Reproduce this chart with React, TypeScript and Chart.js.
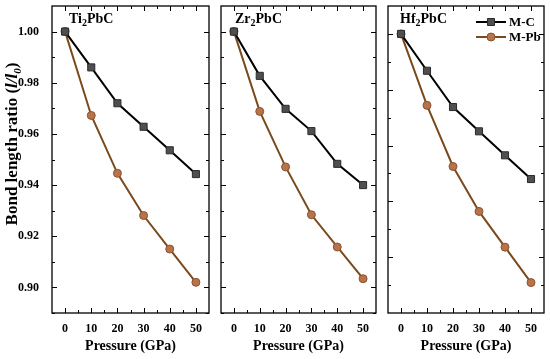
import React, { useEffect, useRef } from 'react';
import { Chart, registerables } from 'chart.js';
Chart.register(...registerables);

// ---------- data ----------
const pressure = [0, 10, 20, 30, 40, 50];
const tiMC = [1.0, 0.986, 0.972, 0.9628, 0.9536, 0.9443];
const tiMPb = [1.0, 0.9672, 0.9446, 0.9281, 0.915, 0.902];
const zrMC = [1.0, 0.9827, 0.9698, 0.9611, 0.9483, 0.94];
const zrMPb = [1.0, 0.9688, 0.9471, 0.9284, 0.9158, 0.9034];
const hfMC = [1.0, 0.9868, 0.9738, 0.9651, 0.9565, 0.948];
const hfMPb = [1.0, 0.9744, 0.9525, 0.9364, 0.9236, 0.9109];
const xMajorTicks = [0, 10, 20, 30, 40, 50];
const xMinorTicks = [5, 15, 25, 35, 45];
const yMajorTiZr = [0.9, 0.92, 0.94, 0.96, 0.98, 1.0];
const yMinorTiZr = [0.89, 0.91, 0.93, 0.95, 0.97, 0.99];
const yMajorHf = [0.92, 0.94, 0.96, 0.98, 1.0];
const yMinorHf = [0.91, 0.93, 0.95, 0.97, 0.99];
const seriesNames = ['M-C', 'M-Pb'];

const FONT = "'Liberation Serif', 'Times New Roman', serif";

type Panel = {
  metal: string;
  mc: number[];
  mpb: number[];
  yMin: number;
  yMax: number;
  yMajor: number[];
  yMinor: number[];
  left: number;
  width: number;
  padLeft: number;
  padRight: number;
  showY: boolean;
  titleOffset: number;
  legend: boolean;
};

const panels: Panel[] = [
  { metal: 'Ti', mc: tiMC, mpb: tiMPb, yMin: 0.89, yMax: 1.01, yMajor: yMajorTiZr, yMinor: yMinorTiZr, left: 0, width: 215, padLeft: 0, padRight: 6, showY: true, titleOffset: 17, legend: false },
  { metal: 'Zr', mc: zrMC, mpb: zrMPb, yMin: 0.89, yMax: 1.01, yMajor: yMajorTiZr, yMinor: yMinorTiZr, left: 215, width: 167, padLeft: 6, padRight: 5, showY: false, titleOffset: 14, legend: false },
  { metal: 'Hf', mc: hfMC, mpb: hfMPb, yMin: 0.9, yMax: 1.01, yMajor: yMajorHf, yMinor: yMinorHf, left: 382, width: 168, padLeft: 6, padRight: 5, showY: false, titleOffset: 12, legend: true },
];

const MC_LINE = '#000000';
const MC_FILL = '#4f4f4f';
const MC_EDGE = '#2b2b2b';
const PB_LINE = '#7a4a1c';
const PB_FILL = '#b8734a';
const PB_EDGE = '#8a5230';

function drawRich(ctx: CanvasRenderingContext2D, parts: { t: string; font: string; dy: number }[], x: number, y: number, align: 'left' | 'center') {
  let total = 0;
  for (const p of parts) { ctx.font = p.font; total += ctx.measureText(p.t).width; }
  let cx = align === 'center' ? x - total / 2 : x;
  for (const p of parts) {
    ctx.font = p.font;
    ctx.fillText(p.t, cx, y + p.dy);
    cx += ctx.measureText(p.t).width;
  }
}

function makePlugin(panel: Panel) {
  return {
    id: 'frame' + panel.metal,
    afterDraw(chart: any) {
      const ctx: CanvasRenderingContext2D = chart.ctx;
      const { left, right, top, bottom } = chart.chartArea;
      const xs = chart.scales.x;
      const ys = chart.scales.y;
      ctx.save();
      ctx.strokeStyle = '#000';
      ctx.lineWidth = 1;
      const major = 5, minor = 3;
      const tickX = (v: number, len: number) => {
        const px = Math.round(xs.getPixelForValue(v)) + 0.5;
        ctx.beginPath();
        ctx.moveTo(px, bottom); ctx.lineTo(px, bottom - len);
        ctx.moveTo(px, top); ctx.lineTo(px, top + len);
        ctx.stroke();
      };
      const tickY = (v: number, len: number) => {
        const py = Math.round(ys.getPixelForValue(v)) + 0.5;
        ctx.beginPath();
        ctx.moveTo(left, py); ctx.lineTo(left + len, py);
        ctx.moveTo(right, py); ctx.lineTo(right - len, py);
        ctx.stroke();
      };
      xMajorTicks.forEach(v => tickX(v, major));
      xMinorTicks.forEach(v => tickX(v, minor));
      panel.yMajor.forEach(v => tickY(v, major));
      panel.yMinor.forEach(v => tickY(v, minor));
      ctx.lineWidth = 1.3;
      ctx.strokeRect(left, top, right - left, bottom - top);

      ctx.fillStyle = '#000';
      ctx.textBaseline = 'alphabetic';
      drawRich(ctx, [
        { t: panel.metal, font: `bold 14px ${FONT}`, dy: 0 },
        { t: '2', font: `bold 10px ${FONT}`, dy: 3 },
        { t: 'PbC', font: `bold 14px ${FONT}`, dy: 0 },
      ], left + panel.titleOffset, top + 17, 'left');

      if (panel.showY) {
        ctx.save();
        ctx.translate(13, 144);
        ctx.rotate(-Math.PI / 2);
        ctx.textBaseline = 'middle';
        drawRich(ctx, [
          { t: 'Bond length ratio (', font: `bold 17px ${FONT}`, dy: 0 },
          { t: 'l/l', font: `italic bold 17px ${FONT}`, dy: 0 },
          { t: '0', font: `italic bold 11px ${FONT}`, dy: 5 },
          { t: ')', font: `bold 17px ${FONT}`, dy: 0 },
        ], 0, 0, 'center');
        ctx.restore();
      }

      if (panel.legend) {
        const lx0 = right - 68, lx1 = right - 38;
        const mx = (lx0 + lx1) / 2;
        const rows = [
          { y: top + 16, line: MC_LINE, fill: MC_FILL, edge: MC_EDGE, style: 'rect' },
          { y: top + 31, line: PB_LINE, fill: PB_FILL, edge: PB_EDGE, style: 'circle' },
        ];
        rows.forEach((r, i) => {
          ctx.strokeStyle = r.line;
          ctx.lineWidth = 2;
          ctx.beginPath(); ctx.moveTo(lx0, r.y); ctx.lineTo(lx1, r.y); ctx.stroke();
          ctx.fillStyle = r.fill;
          ctx.strokeStyle = r.edge;
          ctx.lineWidth = 1;
          ctx.beginPath();
          if (r.style === 'rect') ctx.rect(mx - 3.5, r.y - 3.5, 7, 7);
          else ctx.arc(mx, r.y, 4, 0, Math.PI * 2);
          ctx.fill(); ctx.stroke();
          ctx.fillStyle = '#000';
          ctx.font = `bold 13px ${FONT}`;
          ctx.textBaseline = 'middle';
          ctx.fillText(seriesNames[i], lx1 + 3, r.y + 1);
        });
      }
      ctx.restore();
    },
  };
}

function PanelChart({ panel }: { panel: Panel }) {
  const ref = useRef<HTMLCanvasElement | null>(null);
  useEffect(() => {
    if (!ref.current) return;
    const tickFont = { family: FONT, size: 12, weight: 'bold' as const };
    const chart = new Chart(ref.current, {
      type: 'line',
      data: {
        datasets: [
          {
            label: seriesNames[0],
            data: pressure.map((x, i) => ({ x, y: panel.mc[i] })),
            borderColor: MC_LINE,
            borderWidth: 2,
            pointStyle: 'rect',
            pointRadius: 5,
            pointBackgroundColor: MC_FILL,
            pointBorderColor: MC_EDGE,
            pointBorderWidth: 1,
            tension: 0,
          },
          {
            label: seriesNames[1],
            data: pressure.map((x, i) => ({ x, y: panel.mpb[i] })),
            borderColor: PB_LINE,
            borderWidth: 2,
            pointStyle: 'circle',
            pointRadius: 4,
            pointBackgroundColor: PB_FILL,
            pointBorderColor: PB_EDGE,
            pointBorderWidth: 1,
            tension: 0,
          },
        ],
      },
      options: {
        responsive: false,
        maintainAspectRatio: false,
        animation: false,
        layout: { padding: { top: 4, right: panel.padRight, left: panel.padLeft, bottom: 0 } },
        plugins: { legend: { display: false }, tooltip: { enabled: false } },
        scales: {
          x: {
            type: 'linear',
            min: -5,
            max: 55,
            afterBuildTicks: (s: any) => { s.ticks = xMajorTicks.map(v => ({ value: v })); },
            afterFit: (s: any) => { s.height = 46; s.paddingLeft = 0; s.paddingRight = 0; s.paddingTop = 0; s.paddingBottom = 0; },
            grid: { display: false },
            border: { display: false },
            ticks: { font: tickFont, color: '#000', padding: 1, maxRotation: 0, autoSkip: false, callback: (v: any) => String(v) },
            title: { display: true, text: 'Pressure (GPa)', color: '#000', font: { family: FONT, size: 14, weight: 'bold' }, padding: { top: 0, bottom: 4 } },
          },
          y: {
            type: 'linear',
            display: panel.showY,
            min: panel.yMin,
            max: panel.yMax,
            afterBuildTicks: (s: any) => { s.ticks = panel.yMajor.map(v => ({ value: v })); },
            afterFit: (s: any) => { s.width = panel.showY ? 52 : 0; s.paddingLeft = 0; s.paddingRight = 0; s.paddingTop = 0; s.paddingBottom = 0; },
            grid: { display: false },
            border: { display: false },
            ticks: { font: tickFont, color: '#000', padding: 5, autoSkip: false, callback: (v: any) => Number(v).toFixed(2) },
          },
        },
      },
      plugins: [makePlugin(panel)],
    } as any);
    return () => chart.destroy();
  }, [panel]);
  return (
    <canvas
      ref={ref}
      width={panel.width}
      height={359}
      style={{ position: 'absolute', left: panel.left, top: 0, width: panel.width, height: 359, display: 'block' }}
    />
  );
}

export default function App() {
  return (
    <div style={{ position: 'absolute', left: 0, top: 0, width: 550, height: 359, background: '#fff', overflow: 'hidden' }}>
      {panels.map(p => <PanelChart key={p.metal} panel={p} />)}
    </div>
  );
}
